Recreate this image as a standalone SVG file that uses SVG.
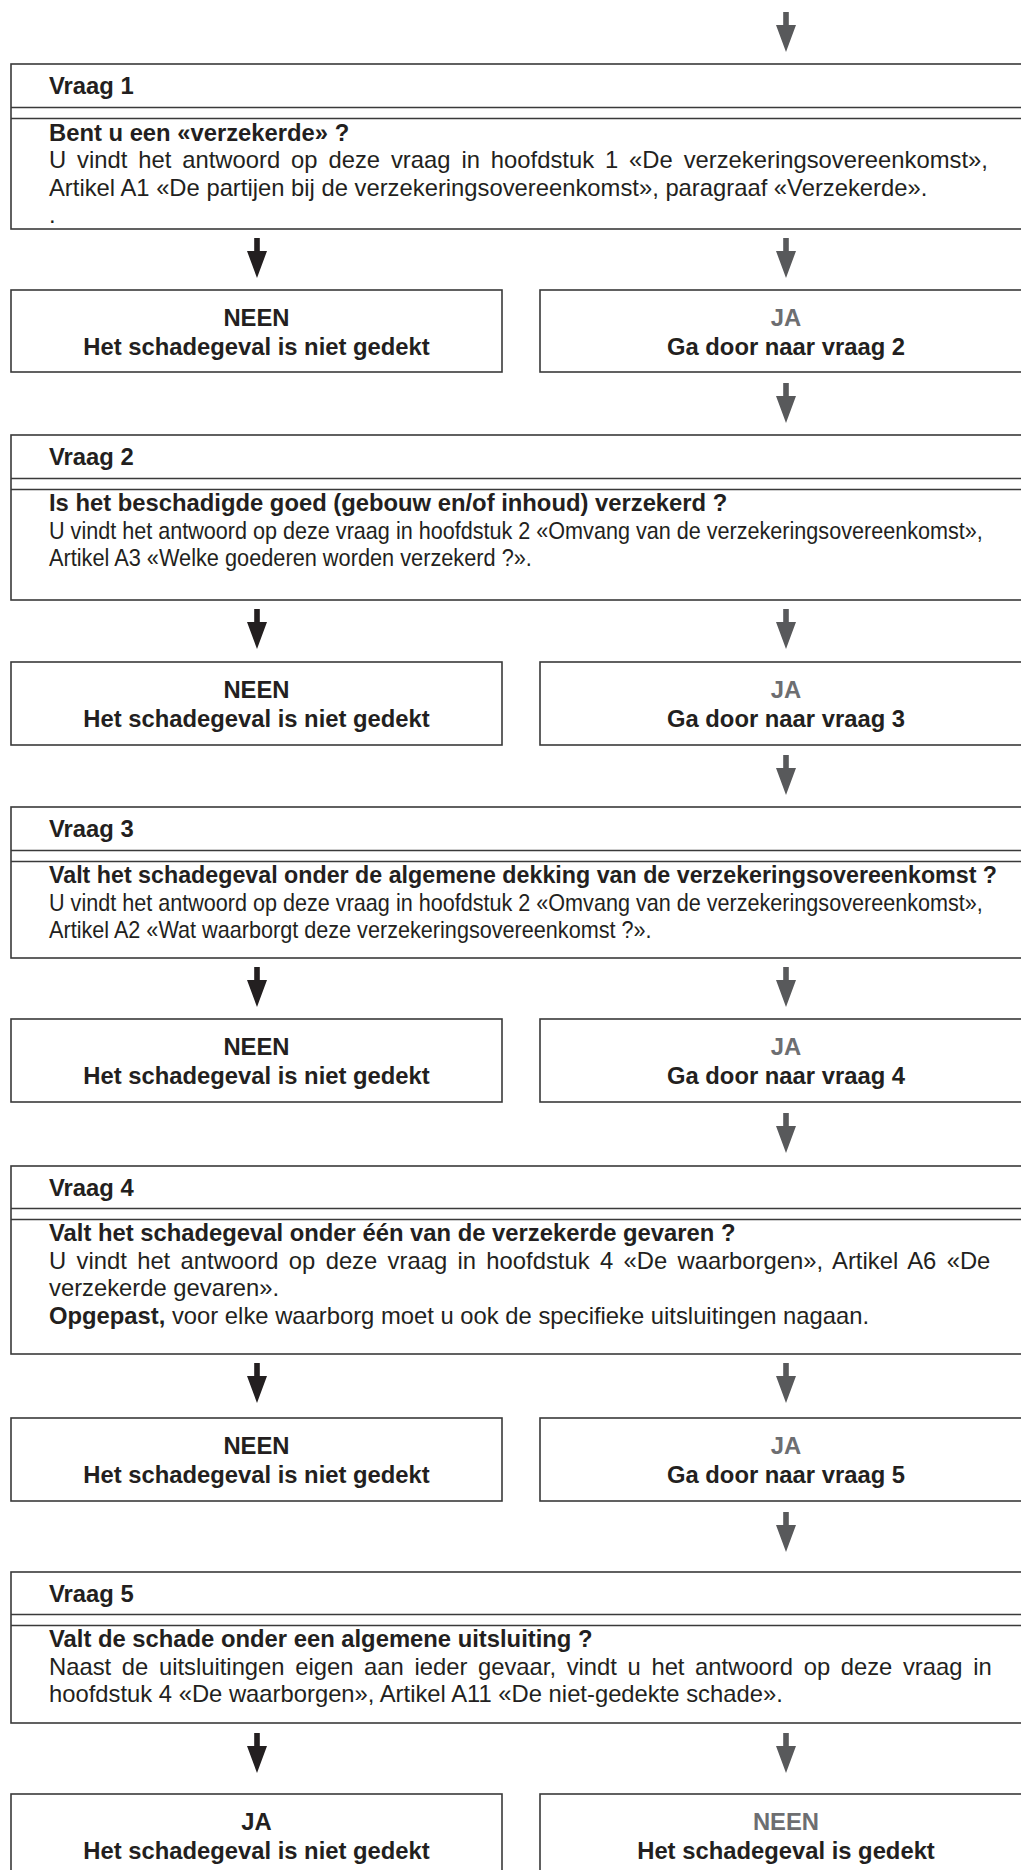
<svg xmlns="http://www.w3.org/2000/svg" xmlns:xlink="http://www.w3.org/1999/xlink" width="1021" height="1870" viewBox="0 0 1021 1870">
<style>
.bg{fill:#ffffff}
.box{fill:#ffffff;stroke:#3a3a3a;stroke-width:1.6}
.ln{stroke:#3a3a3a;stroke-width:1.6;fill:none}
.t{font-family:"Liberation Sans",Arial,Helvetica,sans-serif;font-size:23.8px;fill:#231f20}
.b{font-weight:bold}
.g{fill:#6d6e71}
.c{text-anchor:middle}
</style>
<defs>
<path id="arr" d="M-2.8,0 H2.8 V13 H10 L0,40 L-10,13 H-2.8 Z"/>
</defs>
<rect class="bg" x="0" y="0" width="1021" height="1870"/>

<g id="connectors">
<use xlink:href="#arr" href="#arr" x="786" y="12" fill="#58595b"/>
<use xlink:href="#arr" href="#arr" x="257" y="238" fill="#231f20"/>
<use xlink:href="#arr" href="#arr" x="786" y="238" fill="#58595b"/>
<use xlink:href="#arr" href="#arr" x="786" y="383" fill="#58595b"/>
<use xlink:href="#arr" href="#arr" x="257" y="609" fill="#231f20"/>
<use xlink:href="#arr" href="#arr" x="786" y="609" fill="#58595b"/>
<use xlink:href="#arr" href="#arr" x="786" y="755" fill="#58595b"/>
<use xlink:href="#arr" href="#arr" x="257" y="967" fill="#231f20"/>
<use xlink:href="#arr" href="#arr" x="786" y="967" fill="#58595b"/>
<use xlink:href="#arr" href="#arr" x="786" y="1113" fill="#58595b"/>
<use xlink:href="#arr" href="#arr" x="257" y="1363" fill="#231f20"/>
<use xlink:href="#arr" href="#arr" x="786" y="1363" fill="#58595b"/>
<use xlink:href="#arr" href="#arr" x="786" y="1512" fill="#58595b"/>
<use xlink:href="#arr" href="#arr" x="257" y="1733" fill="#231f20"/>
<use xlink:href="#arr" href="#arr" x="786" y="1733" fill="#58595b"/>
</g>

<g id="vraag1">
<rect class="box" x="11" y="64" width="1030" height="165"/>
<line class="ln" x1="11" y1="107.5" x2="1030" y2="107.5"/>
<line class="ln" x1="11" y1="118.5" x2="1030" y2="118.5"/>
<text class="t b" x="49" y="94">Vraag 1</text>
<text class="t b" x="49" y="140.5">Bent u een «verzekerde» ?</text>
<text class="t" x="49" y="168" word-spacing="4.3">U vindt het antwoord op deze vraag in hoofdstuk 1 «De verzekeringsovereenkomst»,</text>
<text class="t" x="49" y="195.5">Artikel A1 «De partijen bij de verzekeringsovereenkomst», paragraaf «Verzekerde».</text>
<text class="t" x="49" y="223">.</text>
</g>

<g id="neen1">
<rect class="box" x="11" y="290" width="491" height="82"/>
<text class="t b c" x="256.5" y="326">NEEN</text>
<text class="t b c" x="256.5" y="355">Het schadegeval is niet gedekt</text>
</g>
<g id="ja1">
<rect class="box" x="540" y="290" width="500" height="82"/>
<text class="t b c g" x="786" y="326">JA</text>
<text class="t b c" x="786" y="355">Ga door naar vraag 2</text>
</g>

<g id="vraag2">
<rect class="box" x="11" y="435" width="1030" height="165"/>
<line class="ln" x1="11" y1="478.5" x2="1030" y2="478.5"/>
<line class="ln" x1="11" y1="489.5" x2="1030" y2="489.5"/>
<text class="t b" x="49" y="465">Vraag 2</text>
<text class="t b" x="49" y="511">Is het beschadigde goed (gebouw en/of inhoud) verzekerd ?</text>
<text class="t" transform="matrix(0.9075 0 0 1 49 538.5)" x="0" y="0">U vindt het antwoord op deze vraag in hoofdstuk 2 «Omvang van de verzekeringsovereenkomst»,</text>
<text class="t" transform="matrix(0.914 0 0 1 49 566)" x="0" y="0">Artikel A3 «Welke goederen worden verzekerd ?».</text>
</g>

<g id="neen2">
<rect class="box" x="11" y="662" width="491" height="83"/>
<text class="t b c" x="256.5" y="698">NEEN</text>
<text class="t b c" x="256.5" y="727">Het schadegeval is niet gedekt</text>
</g>
<g id="ja2">
<rect class="box" x="540" y="662" width="500" height="83"/>
<text class="t b c g" x="786" y="698">JA</text>
<text class="t b c" x="786" y="727">Ga door naar vraag 3</text>
</g>

<g id="vraag3">
<rect class="box" x="11" y="807" width="1030" height="151"/>
<line class="ln" x1="11" y1="850.5" x2="1030" y2="850.5"/>
<line class="ln" x1="11" y1="861.5" x2="1030" y2="861.5"/>
<text class="t b" x="49" y="837">Vraag 3</text>
<text class="t b" transform="matrix(0.977 0 0 1 49 883)" x="0" y="0">Valt het schadegeval onder de algemene dekking van de verzekeringsovereenkomst ?</text>
<text class="t" transform="matrix(0.9075 0 0 1 49 910.5)" x="0" y="0">U vindt het antwoord op deze vraag in hoofdstuk 2 «Omvang van de verzekeringsovereenkomst»,</text>
<text class="t" transform="matrix(0.909 0 0 1 49 938)" x="0" y="0">Artikel A2 «Wat waarborgt deze verzekeringsovereenkomst ?».</text>
</g>

<g id="neen3">
<rect class="box" x="11" y="1019" width="491" height="83"/>
<text class="t b c" x="256.5" y="1055">NEEN</text>
<text class="t b c" x="256.5" y="1084">Het schadegeval is niet gedekt</text>
</g>
<g id="ja3">
<rect class="box" x="540" y="1019" width="500" height="83"/>
<text class="t b c g" x="786" y="1055">JA</text>
<text class="t b c" x="786" y="1084">Ga door naar vraag 4</text>
</g>

<g id="vraag4">
<rect class="box" x="11" y="1166" width="1030" height="188"/>
<line class="ln" x1="11" y1="1208.5" x2="1030" y2="1208.5"/>
<line class="ln" x1="11" y1="1219.5" x2="1030" y2="1219.5"/>
<text class="t b" x="49" y="1196">Vraag 4</text>
<text class="t b" x="49" y="1241">Valt het schadegeval onder één van de verzekerde gevaren ?</text>
<text class="t" x="49" y="1268.5" word-spacing="3.74">U vindt het antwoord op deze vraag in hoofdstuk 4 «De waarborgen», Artikel A6 «De</text>
<text class="t" x="49" y="1296">verzekerde gevaren».</text>
<text class="t" x="49" y="1323.5"><tspan class="b">Opgepast,</tspan> voor elke waarborg moet u ook de specifieke uitsluitingen nagaan.</text>
</g>

<g id="neen4">
<rect class="box" x="11" y="1418" width="491" height="83"/>
<text class="t b c" x="256.5" y="1454">NEEN</text>
<text class="t b c" x="256.5" y="1483">Het schadegeval is niet gedekt</text>
</g>
<g id="ja4">
<rect class="box" x="540" y="1418" width="500" height="83"/>
<text class="t b c g" x="786" y="1454">JA</text>
<text class="t b c" x="786" y="1483">Ga door naar vraag 5</text>
</g>

<g id="vraag5">
<rect class="box" x="11" y="1572" width="1030" height="151"/>
<line class="ln" x1="11" y1="1614.5" x2="1030" y2="1614.5"/>
<line class="ln" x1="11" y1="1625.5" x2="1030" y2="1625.5"/>
<text class="t b" x="49" y="1602">Vraag 5</text>
<text class="t b" x="49" y="1647">Valt de schade onder een algemene uitsluiting ?</text>
<text class="t" x="49" y="1674.5" word-spacing="4.02">Naast de uitsluitingen eigen aan ieder gevaar, vindt u het antwoord op deze vraag in</text>
<text class="t" x="49" y="1702">hoofdstuk 4 «De waarborgen», Artikel A11 «De niet-gedekte schade».</text>
</g>

<g id="ja5">
<rect class="box" x="11" y="1794" width="491" height="90"/>
<text class="t b c" x="256.5" y="1830">JA</text>
<text class="t b c" x="256.5" y="1859">Het schadegeval is niet gedekt</text>
</g>
<g id="neen5">
<rect class="box" x="540" y="1794" width="500" height="90"/>
<text class="t b c g" x="786" y="1830">NEEN</text>
<text class="t b c" x="786" y="1859">Het schadegeval is gedekt</text>
</g>
</svg>
